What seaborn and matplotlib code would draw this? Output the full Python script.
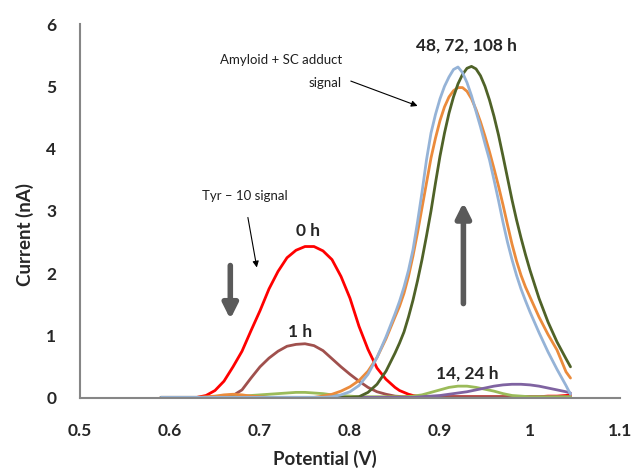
import matplotlib
matplotlib.use("Agg")
import matplotlib.pyplot as plt
import seaborn as sns

# potential grid (V), finer around the big peaks
potential = [0.59, 0.60, 0.61, 0.62, 0.63, 0.64, 0.65, 0.66, 0.67, 0.68,
             0.69, 0.70, 0.71, 0.72, 0.73, 0.74, 0.75, 0.76, 0.77, 0.78,
             0.79, 0.80, 0.81, 0.82, 0.83, 0.84,
             0.85, 0.855, 0.86, 0.865, 0.87, 0.875, 0.88, 0.885, 0.89, 0.895,
             0.90, 0.905, 0.91, 0.915, 0.92, 0.925, 0.93, 0.935, 0.94, 0.945,
             0.95, 0.955, 0.96, 0.965, 0.97, 0.975, 0.98, 0.985, 0.99, 0.995,
             1.00, 1.01, 1.02, 1.03, 1.04, 1.045]

# currents (nA)
cur_0h = [0.00, 0.00, 0.00, 0.00, 0.01, 0.04, 0.12, 0.27, 0.50, 0.75,
          1.08, 1.40, 1.75, 2.03, 2.25, 2.37, 2.43, 2.43, 2.36, 2.22,
          1.95, 1.60, 1.15, 0.78, 0.48, 0.30,
          0.17, 0.12, 0.09, 0.06, 0.04, 0.03, 0.02, 0.02, 0.02, 0.02,
          0.02, 0.02, 0.02, 0.02, 0.02, 0.02, 0.02, 0.02, 0.02, 0.02,
          0.02, 0.02, 0.02, 0.02, 0.02, 0.02, 0.02, 0.02, 0.02, 0.02,
          0.02, 0.02, 0.03, 0.03, 0.04, 0.05]
cur_1h = [0.01, 0.01, 0.01, 0.01, 0.01, 0.01, 0.01, 0.01, 0.04, 0.13,
          0.32, 0.50, 0.64, 0.75, 0.83, 0.86, 0.87, 0.84, 0.76, 0.63,
          0.50, 0.38, 0.27, 0.17, 0.10, 0.06,
          0.03, 0.025, 0.02, 0.02, 0.02, 0.02, 0.02, 0.02, 0.02, 0.02,
          0.02, 0.02, 0.02, 0.02, 0.02, 0.02, 0.02, 0.02, 0.02, 0.02,
          0.02, 0.02, 0.02, 0.02, 0.02, 0.02, 0.02, 0.02, 0.02, 0.02,
          0.02, 0.02, 0.02, 0.02, 0.02, 0.02]
cur_14h = [0.01, 0.01, 0.01, 0.01, 0.01, 0.01, 0.01, 0.01, 0.02, 0.03,
           0.04, 0.05, 0.06, 0.07, 0.08, 0.09, 0.09, 0.08, 0.07, 0.05,
           0.04, 0.03, 0.02, 0.02, 0.02, 0.02,
           0.02, 0.02, 0.02, 0.025, 0.03, 0.04, 0.05, 0.07, 0.09, 0.11,
           0.13, 0.15, 0.17, 0.18, 0.19, 0.19, 0.19, 0.18, 0.17, 0.155,
           0.14, 0.125, 0.11, 0.09, 0.07, 0.055, 0.04, 0.035, 0.03, 0.025,
           0.02, 0.02, 0.02, 0.02, 0.02, 0.02]
cur_24h = [0.01, 0.01, 0.01, 0.01, 0.01, 0.01, 0.01, 0.01, 0.01, 0.01,
           0.01, 0.01, 0.01, 0.01, 0.01, 0.01, 0.01, 0.01, 0.01, 0.01,
           0.01, 0.01, 0.01, 0.01, 0.01, 0.01,
           0.01, 0.01, 0.01, 0.01, 0.01, 0.015, 0.02, 0.025, 0.03, 0.035,
           0.04, 0.05, 0.06, 0.07, 0.08, 0.09, 0.10, 0.115, 0.13, 0.145,
           0.16, 0.175, 0.19, 0.20, 0.21, 0.215, 0.22, 0.22, 0.22, 0.215,
           0.21, 0.19, 0.16, 0.13, 0.10, 0.08]
cur_48h = [0.01, 0.01, 0.01, 0.01, 0.01, 0.02, 0.03, 0.05, 0.06, 0.05,
           0.03, 0.02, 0.01, 0.01, 0.01, 0.01, 0.01, 0.01, 0.03, 0.06,
           0.11, 0.18, 0.28, 0.43, 0.65, 0.95,
           1.30, 1.47, 1.68, 1.95, 2.28, 2.65, 3.05, 3.45, 3.85, 4.17,
           4.45, 4.67, 4.83, 4.93, 4.98, 4.98, 4.92, 4.80, 4.63, 4.43,
           4.20, 3.95, 3.68, 3.40, 3.10, 2.78, 2.47, 2.20, 1.97, 1.78,
           1.62, 1.30, 1.02, 0.77, 0.42, 0.32]
cur_72h = [0.01, 0.01, 0.01, 0.01, 0.01, 0.01, 0.01, 0.01, 0.01, 0.01,
           0.01, 0.01, 0.01, 0.01, 0.01, 0.01, 0.01, 0.01, 0.01, 0.01,
           0.01, 0.01, 0.02, 0.09, 0.22, 0.43,
           0.72, 0.88, 1.06, 1.30, 1.57, 1.88, 2.22, 2.60, 3.00, 3.45,
           3.88, 4.25, 4.57, 4.83, 5.04, 5.19, 5.29, 5.32, 5.28, 5.17,
           5.00, 4.78, 4.52, 4.22, 3.88, 3.53, 3.18, 2.86, 2.57, 2.30,
           2.05, 1.60, 1.22, 0.90, 0.63, 0.50]
cur_108h = [0.01, 0.01, 0.01, 0.01, 0.01, 0.01, 0.01, 0.01, 0.01, 0.01,
            0.01, 0.01, 0.01, 0.01, 0.01, 0.01, 0.01, 0.01, 0.01, 0.02,
            0.05, 0.10, 0.20, 0.38, 0.65, 0.98,
            1.35, 1.55, 1.78, 2.05, 2.38, 2.82, 3.30, 3.82, 4.25, 4.55,
            4.80, 5.00, 5.15, 5.27, 5.31, 5.22, 5.06, 4.85, 4.60, 4.35,
            4.08, 3.82, 3.50, 3.17, 2.82, 2.50, 2.22, 1.97, 1.75, 1.56,
            1.38, 1.05, 0.74, 0.46, 0.20, 0.06]

series = [
    (cur_0h, "#FF0000"),
    (cur_1h, "#A0504D"),
    (cur_14h, "#9BBB59"),
    (cur_24h, "#7F63A1"),
    (cur_48h, "#EB8B3C"),
    (cur_72h, "#4F6228"),
    (cur_108h, "#95B3D7"),
]

sns.set_style("white")
plt.rcParams['font.family'] = ['Lato', 'DejaVu Sans']

fig = plt.figure(figsize=(6.37, 4.68), dpi=100)
ax = fig.add_axes([0.1256, 0.1496, 0.8477, 0.7991])

for vals, col in series:
    sns.lineplot(x=potential, y=vals, color=col, linewidth=2.0, ax=ax)

ax.set_xlim(0.5, 1.1)
ax.set_ylim(0, 6)
ax.set_xticks([0.5, 0.6, 0.7, 0.8, 0.9, 1.0, 1.1])
ax.set_xticklabels(["0.5", "0.6", "0.7", "0.8", "0.9", "1", "1.1"])
ax.set_yticks([0, 1, 2, 3, 4, 5, 6])

for side in ["top", "right"]:
    ax.spines[side].set_visible(False)
for side in ["left", "bottom"]:
    ax.spines[side].set_color("#868686")
    ax.spines[side].set_linewidth(1.5)
ax.tick_params(direction="out", length=5, width=1.5, color="#868686",
               labelsize=12.5)
ax.tick_params(axis="x", pad=13)
ax.tick_params(axis="y", pad=12)
for lab in ax.get_xticklabels() + ax.get_yticklabels():
    lab.set_fontweight("bold")

ax.set_xlabel("Potential (V)", fontsize=13.5, fontweight="bold")
ax.set_ylabel("Current (nA)", fontsize=13.5, fontweight="bold")
ax.xaxis.set_label_coords(0.453, -0.14)
ax.yaxis.set_label_coords(-0.085, 0.436)

# peak labels
ax.text(0.753, 2.68, "0 h", fontsize=12.5, fontweight="bold", ha="center", va="center")
ax.text(0.744, 1.06, "1 h", fontsize=12.5, fontweight="bold", ha="center", va="center")
ax.text(0.930, 0.385, "14, 24 h", fontsize=12.5, fontweight="bold", ha="center", va="center")
ax.text(0.929, 5.65, "48, 72, 108 h", fontsize=12.5, fontweight="bold", ha="center", va="center")

# signal notes
ax.text(0.791, 5.43, "Amyloid + SC adduct", fontsize=9.5, color="#1F1F1F",
        ha="right", va="center")
ax.text(0.791, 5.06, "signal", fontsize=9.5, color="#1F1F1F",
        ha="right", va="center")
ax.annotate("", xy=(0.878, 4.67), xytext=(0.798, 5.10),
            arrowprops=dict(arrowstyle="-|>", color="black", lw=0.8, mutation_scale=9))
ax.text(0.683, 3.24, "Tyr \u2013 10 signal", fontsize=9.5, color="#1F1F1F",
        ha="center", va="center")
ax.annotate("", xy=(0.697, 2.05), xytext=(0.686, 2.94),
            arrowprops=dict(arrowstyle="-|>", color="black", lw=0.8, mutation_scale=9))

# trend arrows
ax.annotate("", xy=(0.667, 1.22), xytext=(0.667, 2.17),
            arrowprops=dict(arrowstyle="-|>", color="#5A5A5A", lw=4, mutation_scale=22))
ax.annotate("", xy=(0.926, 3.18), xytext=(0.926, 1.47),
            arrowprops=dict(arrowstyle="-|>", color="#5A5A5A", lw=4, mutation_scale=22))

fig.savefig("out.png", dpi=100)
